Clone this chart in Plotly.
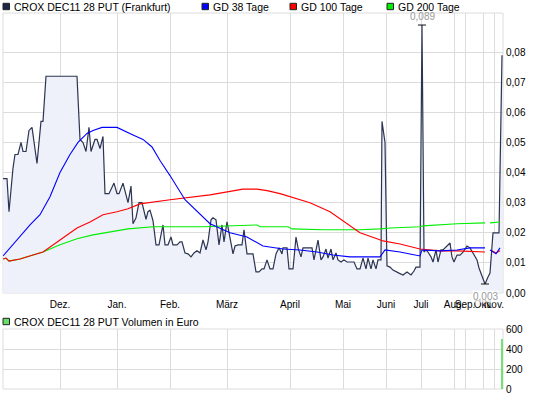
import plotly.graph_objects as go

# ---------------- data ----------------
# trading-day index (x) and closing price in EUR
tage = [0, 2, 3, 5, 6, 7.5, 9, 10, 11.5, 13, 14.5, 17, 19, 20, 21.5, 37, 38.5, 40, 41.5, 43,
        44, 46, 47, 48.5, 50, 51, 53, 55.5, 57, 58, 60, 61.5, 62.5, 64, 65, 66.5, 68, 69.5,
        71.5, 72.5, 73.5, 75, 76.5, 78, 80, 81, 82.5, 84, 85, 87, 88.5, 89.5, 91, 92.5, 94,
        95.5, 97, 98.5, 100, 101.5, 102.5, 104, 105, 106.5, 108, 109.5, 110.5, 112, 113.5,
        115, 116, 117.5, 119.5, 120.5, 122, 125, 126.5, 128, 129.5, 130.5, 132, 133.5, 135,
        136.5, 138, 139.5, 140, 142, 143, 145, 146.5, 147.5, 149, 150, 154.5, 155.5, 157.5,
        159, 160, 161.5, 162.5, 164, 165, 166.5, 167.5, 169, 170.5, 172, 175.5, 177, 178.5,
        180, 181.5, 182.5, 184, 185, 186.5, 187.5, 189, 189.5, 191, 192, 193.5, 195, 198,
        200, 202, 204, 205.5, 206.5, 208.5, 209.5, 210.5, 211.5, 212.5, 214, 215, 216.5,
        217.5, 219, 220, 221, 222, 223.5, 224.5, 225.5, 227, 228.5, 230, 232, 233.5, 235,
        237, 238, 240, 241, 242.5, 243.5, 245, 248, 249.5]
kurs = [0.038, 0.038, 0.027, 0.0415, 0.046, 0.046, 0.050, 0.047, 0.047, 0.054, 0.055, 0.043,
        0.057, 0.057, 0.072, 0.072, 0.051, 0.050, 0.047, 0.055, 0.047, 0.051, 0.051, 0.048,
        0.052, 0.033, 0.033, 0.0365, 0.033, 0.033, 0.0365, 0.0325, 0.030, 0.0355, 0.023,
        0.025, 0.030, 0.030, 0.0245, 0.027, 0.0275, 0.024, 0.016, 0.016, 0.0226, 0.016,
        0.016, 0.0186, 0.016, 0.016, 0.017, 0.017, 0.0133, 0.013, 0.012, 0.0133, 0.014,
        0.0133, 0.0176, 0.0143, 0.017, 0.0243, 0.025, 0.0243, 0.016, 0.0226, 0.017, 0.0236,
        0.0176, 0.013, 0.0156, 0.016, 0.016, 0.021, 0.013, 0.013, 0.007, 0.007, 0.008,
        0.008, 0.011, 0.008, 0.008, 0.013, 0.015, 0.013, 0.015, 0.015, 0.008, 0.008, 0.0186,
        0.015, 0.012, 0.015, 0.015, 0.011, 0.0176, 0.011, 0.012, 0.0146, 0.0116, 0.0146,
        0.011, 0.0133, 0.011, 0.0103, 0.011, 0.0103, 0.0103, 0.008, 0.008, 0.0116, 0.008,
        0.0116, 0.008, 0.011, 0.008, 0.011, 0.011, 0.057, 0.050, 0.009, 0.0086, 0.0076,
        0.0066, 0.006, 0.007, 0.006, 0.0073, 0.0086, 0.0086, 0.089, 0.0136, 0.0143, 0.0136,
        0.012, 0.0103, 0.0143, 0.0103, 0.0143, 0.0143, 0.015, 0.0156, 0.0166, 0.012, 0.0103,
        0.0126, 0.0126, 0.0136, 0.0156, 0.015, 0.0133, 0.011, 0.0083, 0.005, 0.003, 0.0053,
        0.0066, 0.020, 0.020, 0.079]

gd38_tage = [0, 3.5, 8.5, 13.5, 18.5, 23.5, 28.5, 33.5, 37.5, 42, 45, 49.5, 57, 58.5, 65, 70,
             74.5, 78.5, 83.5, 91, 97, 103.5, 113.5, 122, 130, 140, 148.5, 157, 165, 173.5,
             188.5, 191, 198.5, 208.5, 209.5, 218.5, 227, 233.5, 241, 242, 243.5, 246.5, 248.5]
gd38 = [0.0123, 0.015, 0.0186, 0.0226, 0.026, 0.032, 0.040, 0.046, 0.050, 0.053, 0.054,
        0.055, 0.055, 0.0545, 0.0525, 0.051, 0.0485, 0.044, 0.039, 0.031, 0.027, 0.023,
        0.020, 0.0186, 0.0156, 0.0146, 0.0143, 0.0136, 0.0126, 0.012, 0.012, 0.0143,
        0.0136, 0.0123, 0.0143, 0.014, 0.0143, 0.015, 0.015, None, 0.0143, 0.013, 0.015]

gd100_tage = [0, 1.5, 3, 8.5, 15, 20, 28.5, 37, 43.5, 50, 57, 62.5, 68.5, 83.5, 103.5, 120,
              127, 132, 138.5, 143.5, 153.5, 163.5, 172, 178.5, 187, 190, 198.5, 208.5,
              218.5, 227, 241, 242, 244.5, 246.5, 248.5]
gd100 = [0.0113, 0.0116, 0.0106, 0.0113, 0.0126, 0.0136, 0.0176, 0.0216, 0.0236, 0.026,
         0.027, 0.028, 0.0296, 0.031, 0.0326, 0.0345, 0.0345, 0.034, 0.033, 0.032, 0.030,
         0.027, 0.023, 0.020, 0.018, 0.0173, 0.0163, 0.0146, 0.014, 0.014, 0.0136, None,
         0.014, 0.0133, 0.014]

gd200_tage = [0, 1.5, 3, 8.5, 15, 20, 28.5, 37, 45, 52, 62.5, 75, 100, 127, 128.5, 142.5,
              144.5, 160, 178.5, 188.5, 193.5, 208.5, 210, 227, 241, 242, 243.5, 248.5]
gd200 = [0.0113, 0.0116, 0.0106, 0.0113, 0.0126, 0.0136, 0.016, 0.018, 0.0193, 0.020,
         0.0213, 0.022, 0.022, 0.0226, 0.022, 0.022, 0.0213, 0.021, 0.021, 0.0213, 0.0216,
         0.022, 0.0223, 0.023, 0.0233, None, 0.0233, 0.0236]

vol_tage = [249.5]
volumen = [500]

monat_pos = [28.5, 57, 83.5, 112, 143.5, 170, 191.5, 209, 225.5, 231, 240, 245.5]
monat_txt = ["Dez.", "Jan.", "Feb.", "März", "April", "Mai", "Juni", "Juli",
             "Aug.", "Sep.", "Okt.", "Nov."]
kurs_ticks = [0.00, 0.01, 0.02, 0.03, 0.04, 0.05, 0.06, 0.07, 0.08]
vol_ticks = [0, 200, 400, 600]

# ---------------- figure ----------------
W, H = 545, 398
FONT = "Liberation Sans, Arial, sans-serif"
GRID = "#dcdcdc"
PRICE = "#2b3452"


def px_x(p):
    return p / W


def px_y(p):
    return 1 - p / H


fig = go.Figure()

fig.add_trace(go.Scatter(x=tage, y=kurs, mode="lines", fill="tozeroy",
                         fillcolor="#eef1f9", line=dict(color=PRICE, width=1.2),
                         xaxis="x", yaxis="y", hoverinfo="skip"))
fig.add_trace(go.Scatter(x=gd200_tage, y=gd200, mode="lines", connectgaps=False,
                         line=dict(color="#00ee00", width=1.1), xaxis="x", yaxis="y",
                         hoverinfo="skip"))
fig.add_trace(go.Scatter(x=gd100_tage, y=gd100, mode="lines", connectgaps=False,
                         line=dict(color="#ff0000", width=1.1), xaxis="x", yaxis="y",
                         hoverinfo="skip"))
fig.add_trace(go.Scatter(x=gd38_tage, y=gd38, mode="lines", connectgaps=False,
                         line=dict(color="#0000ff", width=1.1), xaxis="x", yaxis="y",
                         hoverinfo="skip"))
fig.add_trace(go.Bar(x=vol_tage, y=volumen, width=0.9, marker=dict(color="#66dd66", line_width=0),
                     xaxis="x2", yaxis="y2", hoverinfo="skip"))

xdom = [px_x(3), px_x(503)]
fig.update_layout(
    template="none",
    width=W, height=H, autosize=False,
    margin=dict(l=0, r=0, t=0, b=0, pad=0, autoexpand=False),
    paper_bgcolor="white", plot_bgcolor="white", showlegend=False,
    font=dict(family=FONT, size=10, color="#000000"),
    xaxis=dict(domain=xdom, range=[0, 250], tickmode="array", tickvals=monat_pos,
               ticktext=monat_txt, showgrid=True, gridcolor=GRID, gridwidth=1,
               zeroline=False, showline=False, ticks="", anchor="y", tickangle=0,
               automargin=False, ticklabelstandoff=4, tickfont=dict(size=10)),
    yaxis=dict(domain=[px_y(293), px_y(13)], range=[0, 0.093], side="right",
               tickmode="array", tickvals=kurs_ticks,
               ticktext=[f"{v:.2f}".replace(".", ",") for v in kurs_ticks],
               showgrid=True, gridcolor=GRID, zeroline=False, showline=False,
               ticks="", anchor="x", automargin=False, ticklabelstandoff=2,
               tickfont=dict(size=10)),
    xaxis2=dict(domain=xdom, range=[0, 250], tickmode="array", tickvals=monat_pos,
                showticklabels=False, showgrid=True, gridcolor=GRID, zeroline=False,
                showline=False, ticks="", anchor="y2", automargin=False),
    yaxis2=dict(domain=[px_y(389), px_y(329)], range=[0, 600], side="right",
                tickmode="array", tickvals=vol_ticks, ticktext=[str(v) for v in vol_ticks],
                showgrid=True, gridcolor=GRID, zeroline=False, showline=False,
                ticks="", anchor="x2", automargin=False, ticklabelstandoff=2,
                tickfont=dict(size=10)),
)

shapes = []
# panel borders
for xr, yr in (("x domain", "y domain"), ("x2 domain", "y2 domain")):
    shapes.append(dict(type="rect", xref=xr, yref=yr, x0=0, x1=1, y0=0, y1=1,
                       line=dict(color=GRID, width=1), layer="below"))

# max / min markers from data
i_max = kurs.index(max(kurs))
i_min = kurs.index(min(kurs))
for i in (i_max, i_min):
    shapes.append(dict(type="line", xref="x", yref="y", x0=tage[i] - 2, x1=tage[i] + 2,
                       y0=kurs[i], y1=kurs[i], line=dict(color="#111111", width=1)))

annotations = [
    dict(x=tage[i_max], y=kurs[i_max], xref="x", yref="y", yanchor="bottom",
         text=f"{kurs[i_max]:.3f}".replace(".", ","), showarrow=False, yshift=1,
         font=dict(color="#9a9a9a", size=10)),
    dict(x=tage[i_min], y=kurs[i_min], xref="x", yref="y", yanchor="top",
         text=f"{kurs[i_min]:.3f}".replace(".", ","), showarrow=False, yshift=-6,
         bgcolor="rgba(255,255,255,0.75)", borderpad=0,
         font=dict(color="#9a9a9a", size=10)),
]

# legend (top) and volume legend
legend_items = [
    (3, "#1c2646", "CROX DEC11 28 PUT (Frankfurt)", 6.5),
    (202, "#0000ff", "GD 38 Tage", 6.5),
    (290, "#ff0000", "GD 100 Tage", 6.5),
    (387, "#00ee00", "GD 200 Tage", 6.5),
    (3, "#66dd66", "CROX DEC11 28 PUT Volumen in Euro", 321.5),
]
for x0, col, txt, yc in legend_items:
    shapes.append(dict(type="rect", xref="paper", yref="paper",
                       x0=px_x(x0), x1=px_x(x0 + 6.5), y0=px_y(yc + 3.2), y1=px_y(yc - 3.2),
                       fillcolor=col, line=dict(color="#222222", width=1)))
    annotations.append(dict(x=px_x(x0 + 8.5), y=px_y(yc), xref="paper", yref="paper",
                            xanchor="left", yanchor="middle", text=txt, showarrow=False,
                            font=dict(size=10.5, color="#000000")))

fig.update_layout(shapes=shapes, annotations=annotations)

css = ("var s=document.createElement('style');"
       "s.innerHTML='html,body{margin:0;padding:0;overflow:hidden;}';"
       "document.head.appendChild(s);")
fig.write_html("out.html", config={"displayModeBar": False, "staticPlot": True},
               post_script=css)
